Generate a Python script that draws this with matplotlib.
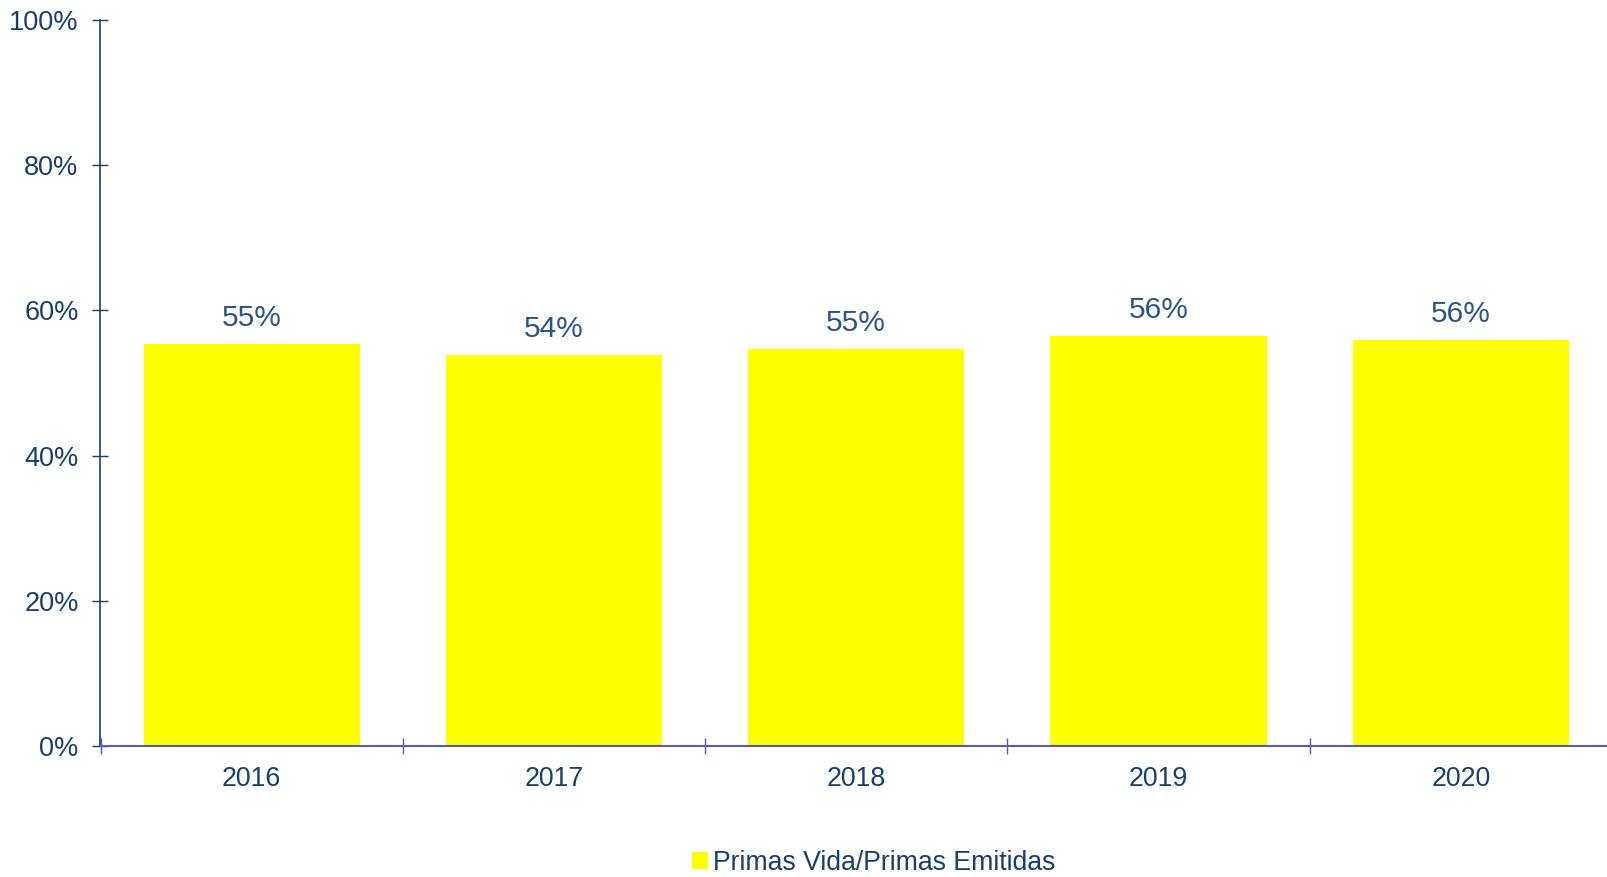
import matplotlib
matplotlib.use("Agg")
import matplotlib.pyplot as plt
import numpy as np
from matplotlib.patches import Patch

plt.rcParams['font.family'] = ['Liberation Sans', 'DejaVu Sans']

years = ["2016", "2017", "2018", "2019", "2020"]
values = [0.554, 0.539, 0.547, 0.565, 0.559]
labels = ["55%", "54%", "55%", "56%", "56%"]
series_name = "Primas Vida/Primas Emitidas"

navy = "#17406D"
label_blue = "#2A5589"
xaxis_col = "#5B5BB5"
bar_col = "#FFFF00"

fig = plt.figure(figsize=(16.08, 8.77), dpi=100)
ax = fig.add_axes([100.5/1608, 1 - 746.3/877, (1612 - 100.5)/1608, (746.3 - 19.5)/877])

x = np.arange(len(years))
ax.bar(x, values, width=0.715, color=bar_col, zorder=2)
for xi, v, lab in zip(x, values, labels):
    ax.text(xi, v + 0.016, lab, ha='center', va='bottom', fontsize=21.5, color=label_blue)

ax.set_xlim(-0.5, len(years) - 0.5)
ax.set_ylim(0, 1.0)
ax.set_yticks(np.arange(0, 1.01, 0.2))
ax.set_yticklabels([f"{int(round(t*100))}%" for t in np.arange(0, 1.01, 0.2)])
ax.tick_params(axis='y', direction='inout', length=11.5, width=1, color=navy,
               labelsize=19.5, labelcolor=navy, pad=10)

ax.set_xticks(x)
ax.set_xticklabels(years)
ax.set_xticks(np.arange(-0.5, len(years), 1.0), minor=True)
ax.tick_params(axis='x', which='major', length=0, labelsize=19.3, labelcolor=navy, pad=14.5)
ax.tick_params(axis='x', which='minor', direction='inout', length=11, width=1, color=xaxis_col)

for s in ['top', 'right']:
    ax.spines[s].set_visible(False)
ax.spines['left'].set_color(navy)
ax.spines['left'].set_linewidth(1.2)
ax.spines['bottom'].set_color(xaxis_col)
ax.spines['bottom'].set_linewidth(1.5)
ax.spines['bottom'].set_zorder(3)

handle = [Patch(facecolor=bar_col, edgecolor='none', label=series_name)]
fig.legend(handles=handle, loc='center', bbox_to_anchor=(874/1608, 1 - 863/877),
           frameon=False, fontsize=19.2, labelcolor=navy, handlelength=0.6, handleheight=0.6,
           handletextpad=0.2)

fig.savefig("out.png", dpi=100)
